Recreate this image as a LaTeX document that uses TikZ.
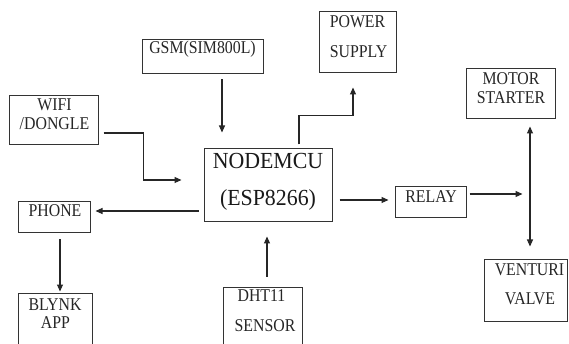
\documentclass[tikz,border=0pt]{standalone}
\usepackage{fontspec}
\setmainfont{Liberation Serif}
\usetikzlibrary{arrows.meta,calc}
\newcommand{\hs}[1]{\scalebox{0.88}[1]{#1}}
\newcommand{\hb}[1]{\scalebox{0.95}[1]{#1}}
\tikzset{
  box/.style={draw=black!80, line width=1pt, rectangle, inner sep=0pt},
  txt/.style={inner sep=0pt, text=black!85, font=\fontsize{18}{20}\selectfont},
  bigtxt/.style={inner sep=0pt, text=black!90, font=\fontsize{23}{26}\selectfont},
  arr/.style={draw=black!85, line width=1.1pt, -{Triangle[length=7pt,width=6pt]}},
  darr/.style={draw=black!85, line width=1.1pt, {Triangle[length=7pt,width=6pt]}-{Triangle[length=7pt,width=6pt]}}
}
\begin{document}
\begin{tikzpicture}[x=1pt,y=-1pt]
\useasboundingbox[fill=white] (0,0) rectangle (569,344);
\clip (0,0) rectangle (569,344);
% boxes
\node[box, minimum width=121pt, minimum height=34pt] (gsm) at (202.5,57) {};
\node[box, minimum width=89pt, minimum height=49pt] (wifi) at (53.5,120.5) {};
\node[box, minimum width=128pt, minimum height=73pt] (mcu) at (268,185.5) {};
\node[box, minimum width=77pt, minimum height=61pt] (power) at (357.5,42.5) {};
\node[box, minimum width=89pt, minimum height=50pt] (motor) at (510.5,94) {};
\node[box, minimum width=71pt, minimum height=31pt] (relay) at (430.5,202.5) {};
\node[box, minimum width=83pt, minimum height=62pt] (venturi) at (525.5,290) {};
\node[box, minimum width=72pt, minimum height=31pt] (phone) at (54,217.5) {};
\node[box, minimum width=74pt, minimum height=57pt] (blynk) at (55,321.5) {};
\node[box, minimum width=79pt, minimum height=63pt] (dht) at (262.5,318.5) {};
% texts
\node[txt] (tgsm) at (202.5,49) {\hs{GSM(SIM800L)}};
\node[txt] (twifi1) at (54.5,105) {\hs{WIFI}};
\node[txt] (twifi2) at (54.5,124) {\hs{/DONGLE}};
\node[bigtxt] (tmcu1) at (268,161) {\hb{NODEMCU}};
\node[bigtxt] (tmcu2) at (268,199.5) {\hb{(ESP8266)}};
\node[txt] (tpow1) at (357.5,22) {\hs{POWER}};
\node[txt] (tpow2) at (358.5,52) {\hs{SUPPLY}};
\node[txt] (tmot1) at (511,79) {\hs{MOTOR}};
\node[txt] (tmot2) at (511,98) {\hs{STARTER}};
\node[txt] (trel) at (431,196.5) {\hs{RELAY}};
\node[txt] (tven1) at (529.5,270) {\hs{VENTURI}};
\node[txt] (tven2) at (530,299) {\hs{VALVE}};
\node[txt] (tph) at (55,211) {\hs{PHONE}};
\node[txt] (tbl1) at (55,305) {\hs{BLYNK}};
\node[txt] (tbl2) at (55.5,322.5) {\hs{APP}};
\node[txt] (tdht1) at (261.5,296) {\hs{DHT11}};
\node[txt] (tdht2) at (265,326) {\hs{SENSOR}};
% connectors
\draw[arr] ($(gsm.south)+(19.5,5)$) -- ($(mcu.north)+(-46,-16)$);
\draw[arr] ($(wifi.east)+(5,12.5)$) -- ++(40,0) |- ($(mcu.west)+(-22,-5.5)$);
\draw[arr] ($(mcu.north)+(31,-4)$) -- ++(0,-29) -| ($(power.south)+(-4.5,14)$);
\draw[arr] ($(mcu.east)+(7,14.5)$) -- ($(relay.west)+(-6,-2.5)$);
\draw[arr] ($(relay.east)+(3,-8.5)$) -- ($(relay.east)+(56,-8.5)$);
\draw[darr] ($(motor.south)+(19.5,7)$) -- ($(venturi.north)+(4.5,-12)$);
\draw[arr] ($(mcu.west)+(-5,25.5)$) -- ($(phone.east)+(5,-6.5)$);
\draw[arr] ($(phone.south)+(6,6)$) -- ($(blynk.north)+(5,-1)$);
\draw[arr] ($(dht.north)+(4.5,-10)$) -- ($(mcu.south)+(-1,14)$);
\end{tikzpicture}
\end{document}
